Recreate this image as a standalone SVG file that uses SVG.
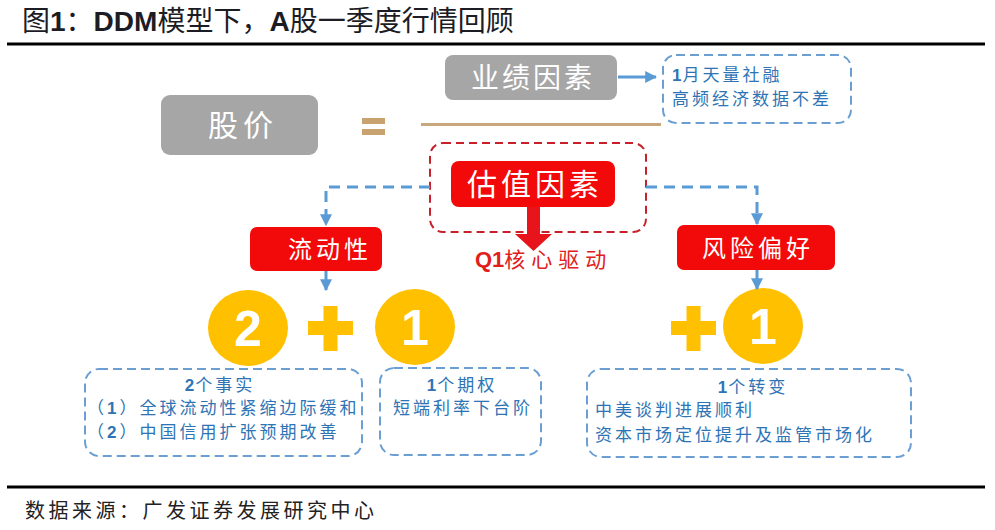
<svg xmlns="http://www.w3.org/2000/svg" width="995" height="530" viewBox="0 0 995 530">
<defs>
<marker id="ah" viewBox="0 0 10 10" refX="9" refY="5" markerWidth="4" markerHeight="4" orient="auto" markerUnits="strokeWidth">
<path d="M0,0 L10,5 L0,10 z" fill="#5b9bd5"/>
</marker>
<style>
.cjk{font-family:"Noto Sans CJK SC","Noto Sans",sans-serif}
.lat{font-family:"Liberation Sans",Arial,sans-serif;font-weight:bold}
.gray{fill:#a6a6a6}
.red{fill:#f20a0a}
.lbl{fill:#ffffff;font-family:"Noto Sans CJK SC",sans-serif;text-anchor:middle}
.blue{fill:#2e74b5;font-family:"Noto Sans CJK SC",sans-serif;font-size:17px;letter-spacing:3px}
.dbox{fill:none;stroke:#6b9fd3;stroke-width:2;stroke-dasharray:9 5}
.conn{fill:none;stroke:#5b9bd5;stroke-width:3;stroke-dasharray:11 7}
.arr{fill:none;stroke:#5b9bd5;stroke-width:3}
.circ{fill:#ffc000}
.num{fill:#ffffff;font-family:"Liberation Sans",Arial,sans-serif;font-weight:bold;font-size:50px;text-anchor:middle}
</style>
</defs>
<rect x="0" y="0" width="995" height="530" fill="#ffffff"/>
<g id="title">
<text x="22" y="31" font-size="28" fill="#1c1c24" class="cjk">图<tspan class="lat">1</tspan>：<tspan class="lat">DDM</tspan>模型下，<tspan class="lat">A</tspan>股一季度行情回顾</text>
<line x1="7" y1="44" x2="985" y2="44" stroke="#000" stroke-width="3"/>
</g>
<g id="stock-price">
<rect x="161" y="95" width="157" height="60" rx="9" class="gray"/>
<text x="243" y="136" font-size="30" letter-spacing="5" class="lbl">股价</text>
</g>
<g id="equals">
<rect x="362" y="118" width="23" height="6" fill="#c8a26f"/>
<rect x="362" y="129" width="23" height="6" fill="#c8a26f"/>
<rect x="421" y="123" width="240" height="3" fill="#c9a77c"/>
</g>
<g id="earnings">
<rect x="445" y="55" width="172" height="45" rx="8" class="gray"/>
<text x="533" y="88" font-size="28" letter-spacing="3" class="lbl">业绩因素</text>
</g>
<g id="earnings-note">
<rect x="663" y="55" width="188" height="68" rx="13" class="dbox"/>
<text x="672" y="81" class="blue"><tspan class="lat" letter-spacing="1">1</tspan>月天量社融</text>
<text x="672" y="105" class="blue">高频经济数据不差</text>
</g>
<g id="valuation">
<rect x="430" y="143" width="216" height="89" rx="13" fill="none" stroke="#c8202a" stroke-width="2" stroke-dasharray="8 5"/>
<rect x="451" y="161" width="164" height="46" rx="8" class="red"/>
<text x="535" y="195" font-size="30" letter-spacing="4" class="lbl">估值因素</text>
<polygon points="527,207 540,207 540,234 552,234 533.5,251 515,234 527,234" fill="#e8141b"/>
<text x="475" y="267" font-size="21" fill="#e0201b" class="cjk" letter-spacing="6"><tspan class="lat" font-size="22" letter-spacing="0">Q1</tspan>核心驱动</text>
</g>
<g id="liquidity">
<rect x="250" y="227" width="132" height="44" rx="7" class="red"/>
<text x="330" y="258" font-size="24" letter-spacing="4" class="lbl">流动性</text>
</g>
<g id="risk-appetite">
<rect x="677" y="225" width="158" height="45" rx="7" class="red"/>
<text x="758" y="257" font-size="24" letter-spacing="4" class="lbl">风险偏好</text>
</g>
<g id="circle-2">
<ellipse cx="248" cy="328" rx="40" ry="38" class="circ"/>
<text x="248" y="346" class="num">2</text>
</g>
<g id="plus-1">
<rect x="308" y="321" width="45" height="14" fill="#ffc000"/>
<rect x="323.5" y="306" width="14" height="45" fill="#ffc000"/>
</g>
<g id="circle-1a">
<ellipse cx="415" cy="327" rx="40" ry="38" class="circ"/>
<text x="415" y="345" class="num">1</text>
</g>
<g id="plus-2">
<rect x="671" y="321" width="45" height="14" fill="#ffc000"/>
<rect x="686.5" y="306" width="14" height="45" fill="#ffc000"/>
</g>
<g id="circle-1b">
<ellipse cx="763" cy="326" rx="40" ry="38" class="circ"/>
<text x="763" y="344" class="num">1</text>
</g>
<g id="facts">
<rect x="85" y="369" width="277" height="87" rx="14" class="dbox"/>
<text x="220" y="391" class="blue" text-anchor="middle"><tspan class="lat" letter-spacing="1">2</tspan>个事实</text>
<text x="87" y="414" class="blue">（<tspan class="lat">1</tspan>）全球流动性紧缩边际缓和</text>
<text x="87" y="438" class="blue">（<tspan class="lat">2</tspan>）中国信用扩张预期改善</text>
</g>
<g id="option">
<rect x="380" y="368" width="161" height="87" rx="14" class="dbox"/>
<text x="462" y="391" class="blue" text-anchor="middle"><tspan class="lat" letter-spacing="1">1</tspan>个期权</text>
<text x="463" y="414" class="blue" text-anchor="middle">短端利率下台阶</text>
</g>
<g id="change">
<rect x="587" y="369" width="324" height="88" rx="14" class="dbox"/>
<text x="753" y="393" class="blue" text-anchor="middle"><tspan class="lat" letter-spacing="1">1</tspan>个转变</text>
<text x="595" y="416" class="blue">中美谈判进展顺利</text>
<text x="595" y="441" class="blue">资本市场定位提升及监管市场化</text>
</g>
<g id="connectors">
<line x1="618" y1="77" x2="656" y2="77" class="arr" marker-end="url(#ah)"/>
<path d="M430,187 H326 V225" class="conn" marker-end="url(#ah)"/>
<path d="M646,187 H757 V224" class="conn" marker-end="url(#ah)"/>
<line x1="326" y1="271" x2="326" y2="290" class="arr" marker-end="url(#ah)"/>
<line x1="757" y1="270" x2="757" y2="289" class="arr" marker-end="url(#ah)"/>
</g>
<g id="source">
<line x1="7" y1="487" x2="985" y2="487" stroke="#000" stroke-width="3"/>
<text x="25" y="518" font-size="20" letter-spacing="3.5" fill="#222" class="cjk">数据来源：广发证券发展研究中心</text>
</g>
</svg>
